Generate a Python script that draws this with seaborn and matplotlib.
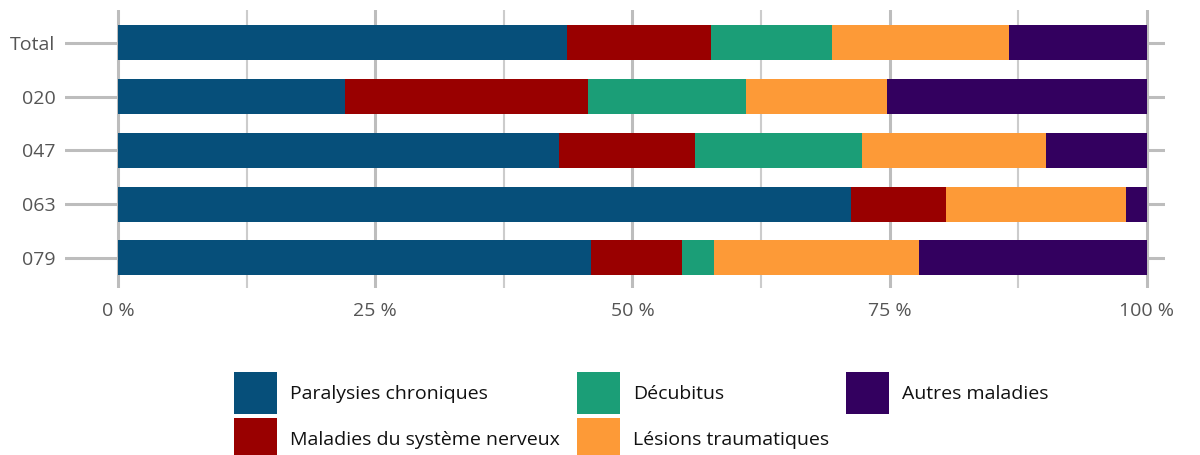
import matplotlib
matplotlib.use("Agg")
import matplotlib.pyplot as plt
import numpy as np
import pandas as pd
import seaborn as sns
from matplotlib.patches import Patch

categories = ["Total", "020", "047", "063", "079"]
series = [
    "Paralysies chroniques",
    "Maladies du système nerveux",
    "Décubitus",
    "Lésions traumatiques",
    "Autres maladies",
]
paralysies = [43.6, 22.1, 42.9, 71.2, 46.0]
maladies_nerveux = [14.0, 23.6, 13.2, 9.3, 8.8]
decubitus = [11.8, 15.3, 16.2, 0.0, 3.1]
lesions = [17.2, 13.7, 17.9, 17.5, 19.9]
autres = [13.4, 25.3, 9.8, 2.0, 22.2]
colors = ["#064f7a", "#990000", "#1b9e77", "#fd9a37", "#33005f"]
xtick_labels = ["0 %", "25 %", "50 %", "75 %", "100 %"]

sns.set_theme(style="white")
plt.rcParams["font.family"] = ["Open Sans", "DejaVu Sans"]

df = pd.DataFrame(
    dict(zip(series, [paralysies, maladies_nerveux, decubitus, lesions, autres])),
    index=categories,
)
cum = df.cumsum(axis=1)

fig = plt.figure(figsize=(12, 4.55), dpi=100)
ax = fig.add_axes([65 / 1200, 1 - 288 / 455, 1100 / 1200, 278 / 455])

# stacked bars: draw cumulative totals from the longest down so shorter ones cover
for name, col in reversed(list(zip(series, colors))):
    sns.barplot(x=cum[name].values, y=categories, orient="h", color=col,
                width=0.65, saturation=1, linewidth=0, ax=ax, zorder=2)

ax.set_xlim(-5.15, 101.75)
ax.set_ylim(4.56, -0.61)
ax.set_xticks([0, 25, 50, 75, 100])
ax.set_xticklabels(xtick_labels)
ax.set_xticks([12.5, 37.5, 62.5, 87.5], minor=True)
ax.set_xlabel("")
ax.set_ylabel("")
ax.set_axisbelow(True)
ax.grid(axis="x", which="major", color="#bdbdbd", linewidth=2.2)
ax.grid(axis="x", which="minor", color="#cccccc", linewidth=1.5)
ax.grid(axis="y", which="major", color="#bdbdbd", linewidth=2.2)
ax.tick_params(axis="both", which="both", length=0, labelsize=14, colors="#555555")
ax.tick_params(axis="x", pad=10)
ax.tick_params(axis="y", pad=7)
for s in ax.spines.values():
    s.set_visible(False)

handles = [Patch(facecolor=c, edgecolor="none", label=n) for n, c in zip(series, colors)]
fig.legend(handles=handles, loc="upper left", bbox_to_anchor=(234 / 1200, 1 - 372 / 455),
           ncol=3, frameon=False, fontsize=14, handlelength=2.2, handleheight=2.95,
           handletextpad=0.7, labelspacing=0.2, columnspacing=0.85, borderpad=0,
           borderaxespad=0, labelcolor="#111111")

fig.savefig("out.png", dpi=100)
